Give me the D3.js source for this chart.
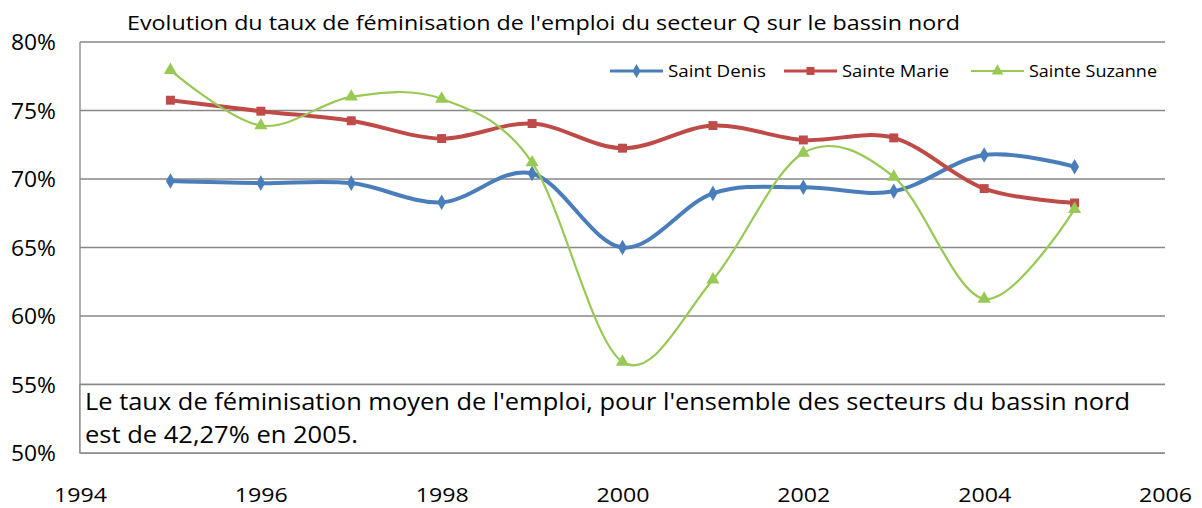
<!DOCTYPE html>
<html>
<head>
<meta charset="utf-8">
<script src="https://cdn.jsdelivr.net/npm/d3@7"></script>
<style>
  body { margin: 0; background: #fff; }
  text { font-family: "Open Sans", "Noto Sans", sans-serif; fill: #000; }
</style>
</head>
<body>
<div id="chart"></div>
<script>
// data
var years = [1995, 1996, 1997, 1998, 1999, 2000, 2001, 2002, 2003, 2004, 2005];
var saintDenis   = [69.85, 69.7, 69.7, 68.3, 70.4, 65.0, 68.95, 69.4, 69.1, 71.75, 70.9];
var sainteMarie  = [75.75, 74.95, 74.25, 72.95, 74.05, 72.25, 73.9, 72.85, 73.0, 69.3, 68.25];
var sainteSuzanne = [77.95, 73.9, 76.0, 75.85, 71.2, 56.65, 62.65, 71.9, 70.15, 61.25, 67.8];
var seriesNames = ["Saint Denis", "Sainte Marie", "Sainte Suzanne"];
var yTicks = [50, 55, 60, 65, 70, 75, 80];
var xTicks = [1994, 1996, 1998, 2000, 2002, 2004, 2006];
var title = "Evolution du taux de féminisation de l'emploi du secteur Q sur le bassin nord";
var note = ["Le taux de féminisation moyen de l'emploi, pour l'ensemble des secteurs du bassin nord",
            "est de 42,27% en 2005."];

var width = 1202, height = 508;
var plotLeft = 80, plotRight = 1165, plotTop = 42, plotBottom = 453;

var svg = d3.select("#chart").append("svg")
    .attr("width", width)
    .attr("height", height);

var x = d3.scaleLinear().domain([1994, 2006]).range([plotLeft, plotRight]);
var y = d3.scaleLinear().domain([50, 80]).range([plotBottom, plotTop]);

// gridlines
svg.selectAll("line.grid")
    .data(yTicks)
    .enter()
    .append("line")
    .attr("class", "grid")
    .attr("x1", plotLeft)
    .attr("x2", plotRight)
    .attr("y1", function(d) { return y(d); })
    .attr("y2", function(d) { return y(d); })
    .attr("stroke", "#878787")
    .attr("stroke-width", 1.3);

// y axis line
svg.append("line")
    .attr("x1", plotLeft).attr("x2", plotLeft)
    .attr("y1", plotTop).attr("y2", plotBottom)
    .attr("stroke", "#878787")
    .attr("stroke-width", 1.3);

// y tick labels
svg.selectAll("text.ytick")
    .data(yTicks)
    .enter()
    .append("text")
    .attr("class", "ytick")
    .attr("x", 56)
    .attr("y", function(d) { return y(d) + 8; })
    .attr("text-anchor", "end")
    .attr("font-size", "21px")
    .attr("textLength", 45)
    .attr("lengthAdjust", "spacingAndGlyphs")
    .text(function(d) { return d + "%"; });

// x tick labels
svg.selectAll("text.xtick")
    .data(xTicks)
    .enter()
    .append("text")
    .attr("class", "xtick")
    .attr("x", function(d) { return x(d) - 26; })
    .attr("y", 502)
    .attr("font-size", "20px")
    .attr("textLength", 53)
    .attr("lengthAdjust", "spacingAndGlyphs")
    .text(function(d) { return d; });

// title
svg.append("text")
    .attr("x", 127)
    .attr("y", 30)
    .attr("font-size", "20px")
    .attr("textLength", 833)
    .attr("lengthAdjust", "spacingAndGlyphs")
    .text(title);

var series = [
    { name: seriesNames[0], values: saintDenis,    color: "#4A7EBB", width: 4,   shape: d3.symbolDiamond,  size: 70 },
    { name: seriesNames[1], values: sainteMarie,   color: "#BE4B48", width: 4,   shape: d3.symbolSquare,   size: 80 },
    { name: seriesNames[2], values: sainteSuzanne, color: "#98C955", width: 2.2, shape: d3.symbolTriangle, size: 75 }
];

var line = d3.line()
    .x(function(d, i) { return x(years[i]); })
    .y(function(d) { return y(d); })
    .curve(d3.curveCardinal.tension(0));

series.forEach(function(s) {
    svg.append("path")
        .attr("d", line(s.values))
        .attr("fill", "none")
        .attr("stroke", s.color)
        .attr("stroke-width", s.width)
        .attr("stroke-linejoin", "round");

    svg.selectAll(null)
        .data(s.values)
        .enter()
        .append("path")
        .attr("d", d3.symbol().type(s.shape).size(s.size))
        .attr("transform", function(d, i) {
            return "translate(" + x(years[i]) + "," + y(d) + ")";
        })
        .attr("fill", s.color);
});

// legend
var legendX = [610, 784, 971];
var legendW = [98, 107, 128];
series.forEach(function(s, i) {
    var lx = legendX[i];
    svg.append("line")
        .attr("x1", lx).attr("x2", lx + 53)
        .attr("y1", 71).attr("y2", 71)
        .attr("stroke", s.color)
        .attr("stroke-width", s.width === 4 ? 3 : 2);
    svg.append("path")
        .attr("d", d3.symbol().type(s.shape).size(s.size * 0.8))
        .attr("transform", "translate(" + (lx + 26.5) + ",71)")
        .attr("fill", s.color);
    svg.append("text")
        .attr("x", lx + 58)
        .attr("y", 77)
        .attr("font-size", "17px")
        .attr("textLength", legendW[i])
        .attr("lengthAdjust", "spacingAndGlyphs")
        .text(s.name);
});

// text box
svg.append("rect")
    .attr("x", plotLeft)
    .attr("y", y(55))
    .attr("width", plotRight - plotLeft)
    .attr("height", y(50) - y(55))
    .attr("fill", "#fff");
svg.append("path")
    .attr("d", "M" + plotRight + "," + y(55) + "H" + plotLeft + "V" + y(50) + "H" + plotRight)
    .attr("fill", "none")
    .attr("stroke", "#878787")
    .attr("stroke-width", 1.3);

var noteW = [1045, 273];
svg.selectAll("text.note")
    .data(note)
    .enter()
    .append("text")
    .attr("class", "note")
    .attr("x", 85)
    .attr("y", function(d, i) { return 410 + i * 33; })
    .attr("font-size", "23px")
    .attr("textLength", function(d, i) { return noteW[i]; })
    .attr("lengthAdjust", "spacingAndGlyphs")
    .text(function(d) { return d; });
</script>
</body>
</html>
